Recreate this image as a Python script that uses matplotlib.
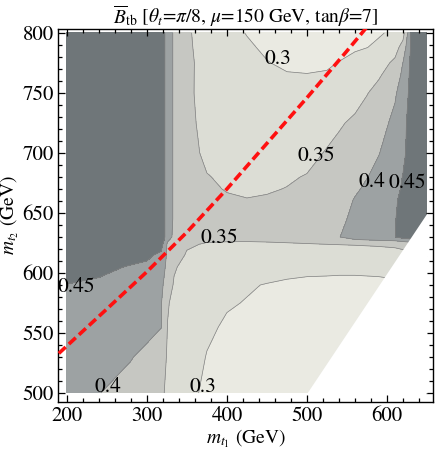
import numpy as np
import matplotlib
matplotlib.use("Agg")
import matplotlib.pyplot as plt
from matplotlib.ticker import MultipleLocator

plt.rcParams['font.family'] = ['STIXGeneral', 'DejaVu Serif']
plt.rcParams['mathtext.fontset'] = 'stix'

# grid: m_t1 (x) and m_t2 (y) in GeV
mt1 = [200, 240, 280, 300, 318, 326, 334, 350, 375, 400, 425, 450,
       475, 500, 525, 540, 560, 575, 590, 610, 620, 630, 640, 650]
mt2 = [500, 530, 555, 575, 590, 605, 615, 624, 630, 645, 661, 670,
       680, 700, 725, 750, 765, 775, 788, 800]

# estimated B_tb values, one row per m_t2 value
btb = [
    [0.415, 0.401, 0.385, 0.375, 0.356, 0.343, 0.330, 0.310, 0.293, 0.287, 0.283, 0.280, 0.2785, 0.277, 0.276, 0.275, 0.275, 0.275, 0.275, 0.275, 0.275, 0.275, 0.275, 0.275],
    [0.420, 0.412, 0.402, 0.390, 0.370, 0.345, 0.330, 0.313, 0.299, 0.293, 0.288, 0.285, 0.282, 0.280, 0.279, 0.278, 0.278, 0.278, 0.278, 0.278, 0.278, 0.278, 0.278, 0.278],
    [0.430, 0.425, 0.418, 0.412, 0.401, 0.348, 0.330, 0.314, 0.304, 0.297, 0.292, 0.288, 0.285, 0.283, 0.282, 0.281, 0.280, 0.280, 0.280, 0.280, 0.280, 0.280, 0.280, 0.280],
    [0.440, 0.435, 0.428, 0.422, 0.402, 0.355, 0.335, 0.318, 0.306, 0.302, 0.299, 0.294, 0.291, 0.288, 0.287, 0.286, 0.285, 0.285, 0.285, 0.285, 0.285, 0.285, 0.285, 0.285],
    [0.449, 0.443, 0.436, 0.432, 0.410, 0.375, 0.345, 0.327, 0.313, 0.306, 0.302, 0.299, 0.296, 0.294, 0.2935, 0.293, 0.293, 0.2935, 0.294, 0.295, 0.296, 0.297, 0.298, 0.300],
    [0.470, 0.460, 0.447, 0.440, 0.425, 0.385, 0.355, 0.335, 0.322, 0.316, 0.313, 0.310, 0.3085, 0.307, 0.3065, 0.306, 0.306, 0.3065, 0.307, 0.310, 0.312, 0.315, 0.318, 0.320],
    [0.480, 0.475, 0.465, 0.460, 0.440, 0.390, 0.370, 0.346, 0.335, 0.330, 0.328, 0.327, 0.327, 0.327, 0.3285, 0.330, 0.332, 0.3335, 0.335, 0.338, 0.340, 0.345, 0.350, 0.355],
    [0.490, 0.490, 0.490, 0.490, 0.470, 0.390, 0.375, 0.355, 0.347, 0.346, 0.346, 0.347, 0.348, 0.349, 0.3502, 0.351, 0.352, 0.353, 0.354, 0.356, 0.360, 0.370, 0.380, 0.390],
    [0.500, 0.500, 0.500, 0.500, 0.490, 0.420, 0.390, 0.375, 0.360, 0.358, 0.357, 0.357, 0.358, 0.360, 0.383, 0.398, 0.425, 0.4325, 0.440, 0.449, 0.470, 0.480, 0.490, 0.500],
    [0.500, 0.500, 0.500, 0.500, 0.490, 0.420, 0.395, 0.380, 0.370, 0.365, 0.362, 0.363, 0.366, 0.370, 0.384, 0.392, 0.408, 0.419, 0.430, 0.448, 0.465, 0.480, 0.490, 0.500],
    [0.500, 0.500, 0.500, 0.500, 0.490, 0.420, 0.395, 0.375, 0.362, 0.354, 0.351, 0.353, 0.357, 0.362, 0.376, 0.385, 0.402, 0.4135, 0.425, 0.445, 0.460, 0.480, 0.490, 0.500],
    [0.500, 0.500, 0.500, 0.500, 0.490, 0.420, 0.395, 0.372, 0.356, 0.348, 0.345, 0.347, 0.351, 0.357, 0.370, 0.378, 0.395, 0.406, 0.417, 0.437, 0.456, 0.478, 0.490, 0.500],
    [0.500, 0.500, 0.500, 0.500, 0.490, 0.420, 0.395, 0.370, 0.352, 0.343, 0.340, 0.341, 0.346, 0.352, 0.364, 0.372, 0.388, 0.399, 0.410, 0.430, 0.452, 0.475, 0.490, 0.500],
    [0.500, 0.500, 0.500, 0.500, 0.490, 0.420, 0.395, 0.368, 0.340, 0.332, 0.328, 0.327, 0.332, 0.338, 0.353, 0.362, 0.375, 0.387, 0.399, 0.420, 0.440, 0.470, 0.490, 0.500],
    [0.500, 0.500, 0.500, 0.500, 0.490, 0.420, 0.395, 0.362, 0.336, 0.326, 0.320, 0.318, 0.319, 0.322, 0.336, 0.345, 0.358, 0.371, 0.385, 0.410, 0.435, 0.470, 0.490, 0.500],
    [0.500, 0.500, 0.500, 0.500, 0.490, 0.420, 0.395, 0.360, 0.332, 0.322, 0.315, 0.310, 0.307, 0.306, 0.311, 0.318, 0.332, 0.348, 0.365, 0.395, 0.420, 0.465, 0.490, 0.500],
    [0.500, 0.500, 0.500, 0.500, 0.490, 0.420, 0.395, 0.361, 0.331, 0.320, 0.312, 0.306, 0.3015, 0.301, 0.3025, 0.306, 0.318, 0.330, 0.345, 0.375, 0.410, 0.462, 0.490, 0.500],
    [0.500, 0.500, 0.500, 0.500, 0.490, 0.420, 0.395, 0.362, 0.330, 0.318, 0.310, 0.301, 0.296, 0.293, 0.296, 0.301, 0.310, 0.318, 0.330, 0.360, 0.401, 0.460, 0.490, 0.500],
    [0.500, 0.500, 0.500, 0.500, 0.490, 0.420, 0.395, 0.361, 0.324, 0.313, 0.3035, 0.296, 0.290, 0.287, 0.288, 0.291, 0.296, 0.2995, 0.306, 0.330, 0.370, 0.455, 0.490, 0.500],
    [0.500, 0.500, 0.500, 0.500, 0.490, 0.420, 0.395, 0.360, 0.318, 0.308, 0.299, 0.290, 0.284, 0.280, 0.281, 0.283, 0.287, 0.292, 0.297, 0.306, 0.330, 0.452, 0.490, 0.500],
]

levels = [0.0, 0.3, 0.35, 0.4, 0.45, 1.0]
line_levels = [0.3, 0.35, 0.4, 0.45]

# red dashed curve
line_mt1 = [190, 250, 300, 350, 400, 450, 500, 550, 575]
line_mt2 = [533, 570, 601, 634, 670, 708, 746, 785, 805]

# contour labels: text, m_t1, m_t2
labels = [("0.3", 464, 778), ("0.35", 512, 697), ("0.4", 581, 676),
          ("0.45", 626, 675), ("0.35", 391, 629), ("0.45", 212, 588),
          ("0.4", 251, 505), ("0.3", 370, 505)]

fill_colors = ['#eaeae2', '#dcddd5', '#c6c7c2', '#9da2a3', '#6f7679']

fig = plt.figure(figsize=(4.36, 4.53), dpi=100)
ax = fig.add_axes([58/436, 51/453, 375/436, 373/453])

X, Y = np.meshgrid(mt1, mt2)
Z = np.array(btb)
ax.contourf(X, Y, Z, levels=levels, colors=fill_colors, zorder=1)
ax.contour(X, Y, Z, levels=line_levels, colors='#808080', linewidths=0.5, zorder=1.5)

# region m_t2 < m_t1 is left blank
edge = np.array([m for m in mt1 if m >= mt2[0]])
ax.fill_between(edge, mt2[0], edge, color='white', lw=0, zorder=2)

ax.plot(line_mt1, line_mt2, color='#ff1010', lw=2.6, ls=(0, (2.6, 1.2)), zorder=3)

for txt, lx, ly in labels:
    ax.text(lx, ly, txt, fontsize=15.5, ha='center', va='center', zorder=4)

ax.set_xlim(189, 657.5)
ax.set_ylim(492.5, 803.3)
ax.xaxis.set_major_locator(MultipleLocator(100))
ax.xaxis.set_minor_locator(MultipleLocator(20))
ax.yaxis.set_major_locator(MultipleLocator(50))
ax.yaxis.set_minor_locator(MultipleLocator(10))
ax.tick_params(which='both', direction='in', top=True, right=True, labelsize=15, width=0.9)
ax.tick_params(which='major', length=5, pad=3)
ax.tick_params(which='minor', length=2.8)
for s in ax.spines.values():
    s.set_linewidth(1.0)

ax.set_xlabel(r'$m_{t_1}$ (GeV)', fontsize=14, labelpad=1)
ax.set_ylabel(r'$m_{t_2}$ (GeV)', fontsize=14, labelpad=1)
ax.set_title(r'$\overline{B}_{\rm tb}$ [$\theta_t$=$\pi$/8, $\mu$=150 GeV, tan$\beta$=7]',
             fontsize=14, pad=4)

plt.savefig("out.png", dpi=100)
